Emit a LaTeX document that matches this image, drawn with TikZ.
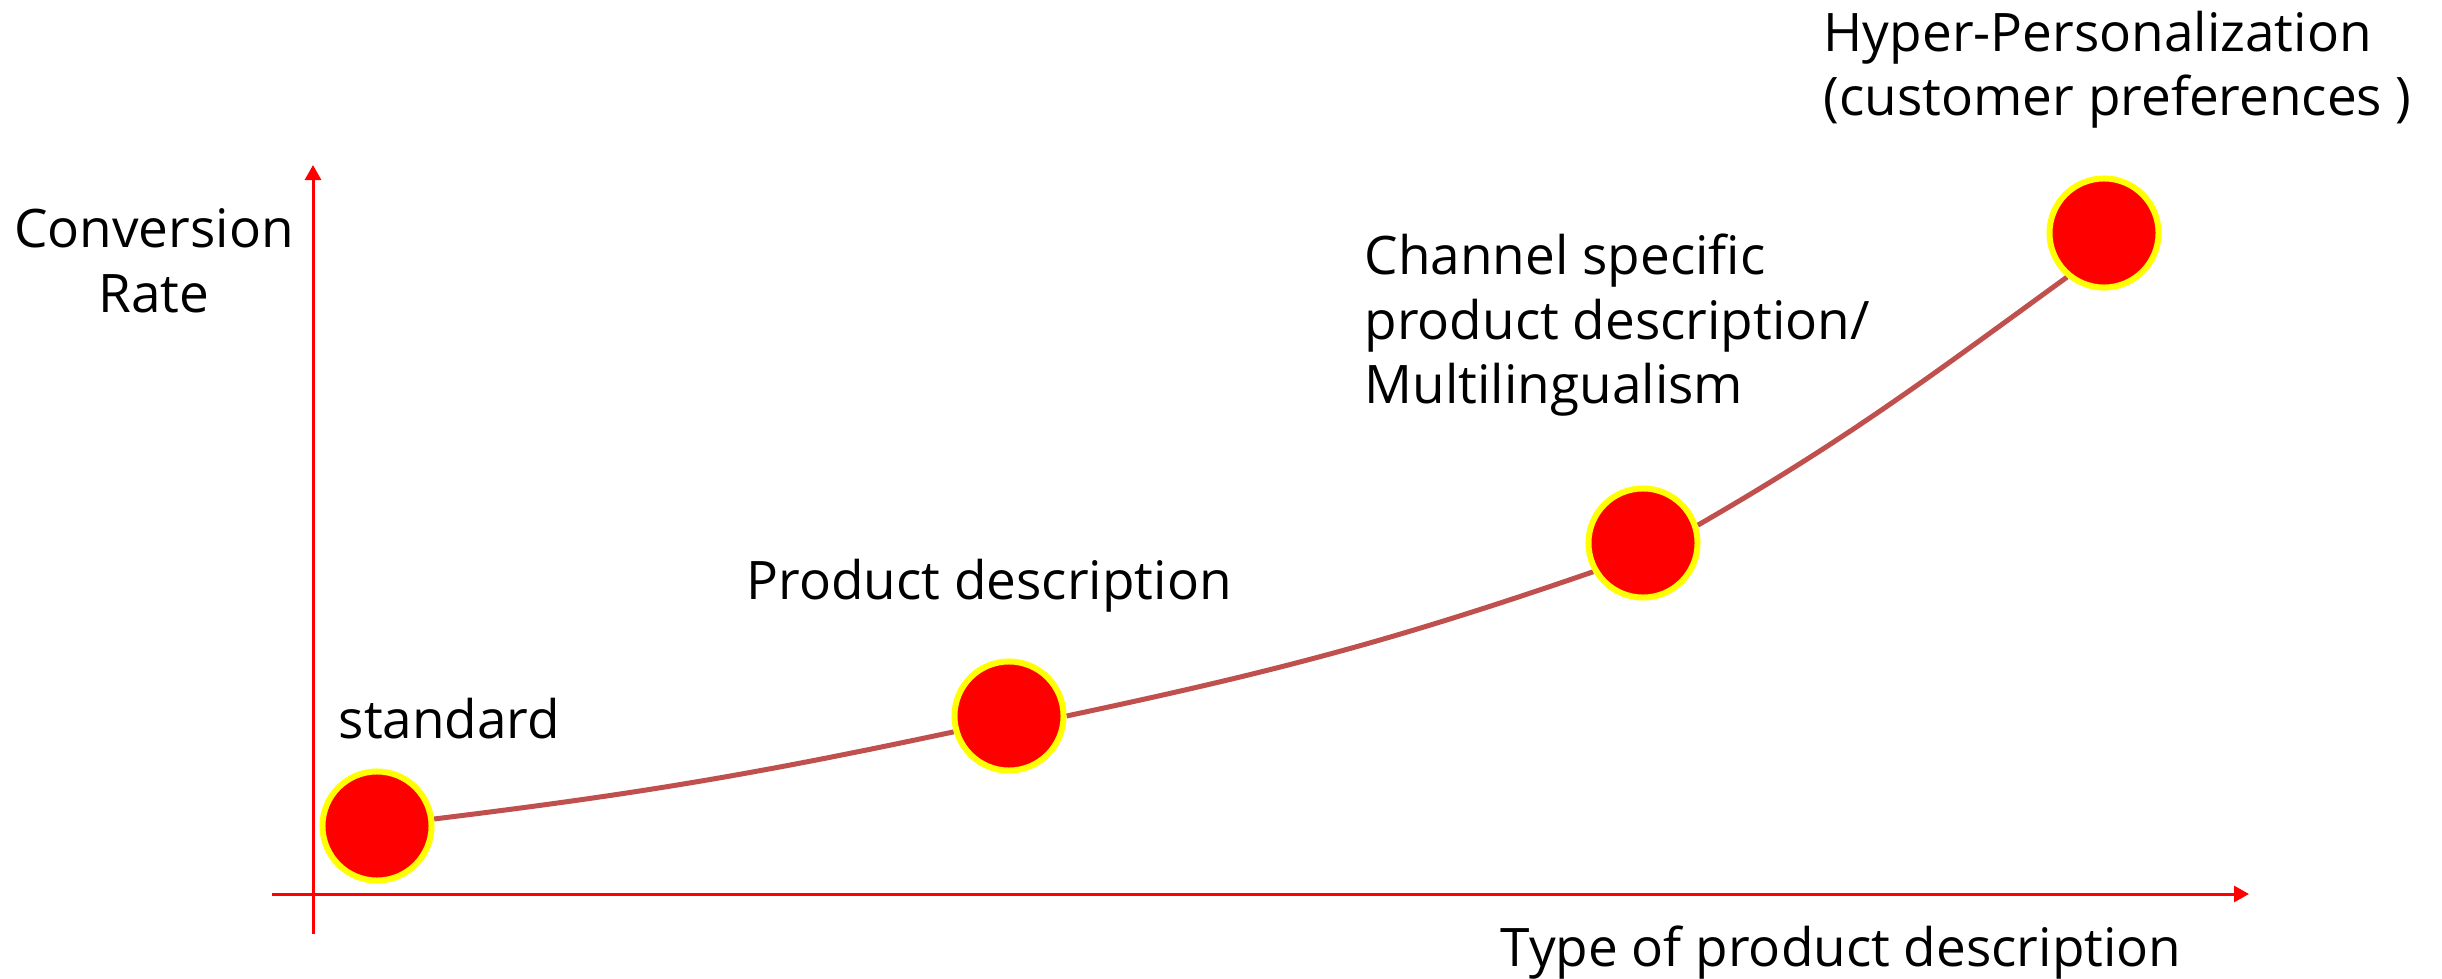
\documentclass[tikz,border=0pt]{standalone}
\usepackage{fontspec}
\setmainfont{Open Sans}
\usetikzlibrary{arrows.meta,backgrounds}
\definecolor{dotred}{HTML}{FF0000}
\definecolor{ringyellow}{HTML}{FFFF00}
\definecolor{trendred}{HTML}{C0504D}

\begin{document}
\begin{tikzpicture}[x=0.01cm, y=-0.01cm,
  dot/.style = {circle, draw=ringyellow, fill=dotred, line width=0.06cm, minimum size=1.09cm, inner sep=0pt},
  lbl/.style = {inner sep=0pt, anchor=base west, align=left, font=\fontsize{15.1}{18.2}\selectfont},
  axis/.style = {draw=red, line width=0.03cm, -{Triangle[length=0.15cm,width=0.16cm]}},
  trend/.style = {draw=trendred, line width=0.05cm}]
  \useasboundingbox (0,0) rectangle (2442,979);
  \node[dot] (s1) at (377,826) {};
  \node[dot] (s2) at (1009,716) {};
  \node[dot] (s3) at (1643,543) {};
  \node[dot] (s4) at (2104,233) {};
  \coordinate (xs) at (272,894);
  \coordinate (xe) at (2249,894);
  \coordinate (ys) at (313,934);
  \coordinate (ye) at (313,165);
  \draw[axis] (xs) -- (xe);
  \draw[axis] (ys) -- (ye);
  \begin{scope}[on background layer]
    \draw[trend] (s1.7) to[out=7,in=192] (s2.196)
                 (s2.0) to[out=12,in=199] (s3.210)
                 (s3.18) to[out=30,in=216] (s4.230);
  \end{scope}
  \node[lbl, align=center, anchor=base] (yl) at (154,312) {Conversion\\Rate};
  \node[lbl] (l1) at (338,738) {standard};
  \node[lbl] (l2) at (746,599) {Product description};
  \node[lbl] (l3) at (1364,403) {Channel specific\\product description/\\Multilingualism};
  \node[lbl] (l4) at (1823,116) {Hyper-Personalization\\(customer preferences )};
  \node[lbl] (xl) at (1500,966) {Type of product description};
\end{tikzpicture}
\end{document}
